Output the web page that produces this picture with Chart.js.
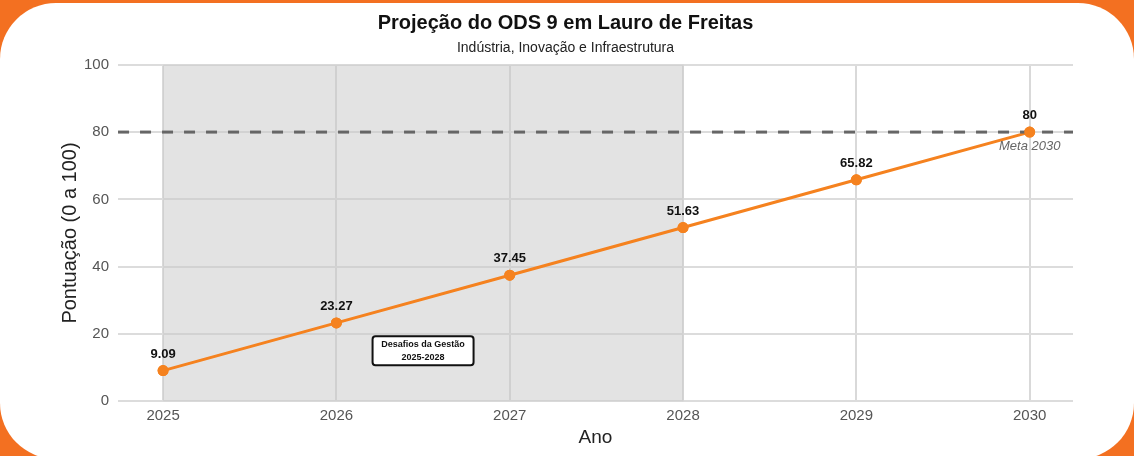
<!DOCTYPE html>
<html>
<head>
<meta charset="utf-8">
<script src="https://cdn.jsdelivr.net/npm/chart.js@4/dist/chart.umd.min.js"></script>
<style>
  html, body { margin: 0; padding: 0; }
  body { width: 1134px; height: 456px; background: #f37021; position: relative; overflow: hidden; }
  .card { position: absolute; top: 3px; left: 0; width: 1134px; height: 456px; background: #fff; border-radius: 56px; }
  #chart { position: absolute; top: 0; left: 0; }
</style>
</head>
<body>
<div class="card"></div>
<canvas id="chart" width="1134" height="456"></canvas>
<script>
// ================= DATA =================
const years = [2025, 2026, 2027, 2028, 2029, 2030];
const scores = [9.09, 23.27, 37.45, 51.63, 65.82, 80];
const yTicks = [0, 20, 40, 60, 80, 100];
const metaValue = 80;
const gestaoStart = 2025;
const gestaoEnd = 2028;

const ORANGE = "#f5821f";
const FONT = "'Liberation Sans', Arial, sans-serif";

// ================= PLUGINS =================
// gray band behind the management period
const gestaoBand = {
    id: "gestaoBand",
    beforeDatasetsDraw(chart) {
        const { ctx, chartArea, scales } = chart;
        const x0 = scales.x.getPixelForValue(gestaoStart);
        const x1 = scales.x.getPixelForValue(gestaoEnd);
        ctx.save();
        ctx.fillStyle = "rgba(200,200,200,0.5)";
        ctx.fillRect(x0, chartArea.top, x1 - x0, chartArea.bottom - chartArea.top);
        ctx.strokeStyle = "#d0d0d0";
        ctx.lineWidth = 1;
        ctx.beginPath();
        ctx.moveTo(x1, chartArea.top);
        ctx.lineTo(x1, chartArea.bottom);
        ctx.stroke();
        ctx.restore();
    }
};

// dashed target line + value labels + box
const overlays = {
    id: "overlays",
    afterDatasetsDraw(chart) {
        const { ctx, chartArea, scales } = chart;
        const yMeta = scales.y.getPixelForValue(metaValue);
        ctx.save();
        ctx.strokeStyle = "#666";
        ctx.lineWidth = 3;
        ctx.setLineDash([11, 11]);
        ctx.beginPath();
        ctx.moveTo(chartArea.left, yMeta);
        ctx.lineTo(chartArea.right, yMeta);
        ctx.stroke();
        ctx.setLineDash([]);

        ctx.fillStyle = "#666";
        ctx.font = "italic 13px " + FONT;
        ctx.textAlign = "center";
        ctx.textBaseline = "middle";
        ctx.fillText("Meta 2030", scales.x.getPixelForValue(2030), yMeta + 14);

        // redraw points on top of the dashed line
        const meta = chart.getDatasetMeta(0);
        meta.data.forEach(pt => pt.draw(ctx));

        ctx.fillStyle = "#111";
        ctx.font = "bold 13px " + FONT;
        ctx.textBaseline = "bottom";
        meta.data.forEach((pt, i) => {
            ctx.fillText(String(scores[i]), pt.x, pt.y - 10);
        });

        // "Desafios da Gestão" box
        const bx = scales.x.getPixelForValue(2026.5);
        const by = scales.y.getPixelForValue(15);
        const w = 101, h = 29;
        ctx.fillStyle = "#fff";
        ctx.strokeStyle = "#111";
        ctx.lineWidth = 2;
        ctx.beginPath();
        ctx.roundRect(bx - w / 2, by - h / 2, w, h, 3);
        ctx.fill();
        ctx.stroke();
        ctx.fillStyle = "#111";
        ctx.font = "bold 9px " + FONT;
        ctx.textBaseline = "middle";
        ctx.fillText("Desafios da Gestão", bx, by - 6);
        ctx.fillText("2025-2028", bx, by + 7);
        ctx.restore();
    }
};

// ================= CHART =================
new Chart(document.getElementById("chart"), {
    type: "line",
    data: {
        datasets: [{
            data: years.map((y, i) => ({ x: y, y: scores[i] })),
            borderColor: ORANGE,
            backgroundColor: ORANGE,
            borderWidth: 3,
            pointRadius: 4,
            pointHoverRadius: 4,
            tension: 0
        }]
    },
    options: {
        responsive: false,
        animation: false,
        layout: { padding: { left: 58, right: 61, top: 0, bottom: 5 } },
        plugins: {
            legend: { display: false },
            tooltip: { enabled: false },
            title: {
                display: true,
                text: "Projeção do ODS 9 em Lauro de Freitas",
                color: "#111",
                font: { family: FONT, size: 20, weight: "bold" },
                padding: { top: 11, bottom: 5 }
            },
            subtitle: {
                display: true,
                text: "Indústria, Inovação e Infraestrutura",
                color: "#222",
                font: { family: FONT, size: 14 },
                padding: { bottom: 8 }
            }
        },
        scales: {
            x: {
                type: "linear",
                min: 2024.74,
                max: 2030.25,
                afterBuildTicks(axis) { axis.ticks = years.map(v => ({ value: v })); },
                afterFit(axis) { axis.height -= 5; },
                ticks: { color: "#555", font: { family: FONT, size: 15 }, padding: 6, callback: v => String(v) },
                grid: { color: "#d9d9d9", lineWidth: 2, drawTicks: false },
                border: { display: false },
                title: { display: true, text: "Ano", color: "#222", font: { family: FONT, size: 19 }, padding: { top: 0, bottom: 2 } }
            },
            y: {
                min: 0,
                max: 100,
                afterBuildTicks(axis) { axis.ticks = yTicks.map(v => ({ value: v })); },
                afterFit(axis) { axis.width -= 9; },
                ticks: { color: "#555", font: { family: FONT, size: 15 }, padding: 9 },
                grid: { color: "#dcdcdc", lineWidth: 2, drawTicks: false },
                border: { display: false },
                title: { display: true, text: "Pontuação (0 a 100)", color: "#222", font: { family: FONT, size: 20 }, padding: { top: 0, bottom: 2 } }
            }
        }
    },
    plugins: [gestaoBand, overlays]
});
</script>
</body>
</html>
